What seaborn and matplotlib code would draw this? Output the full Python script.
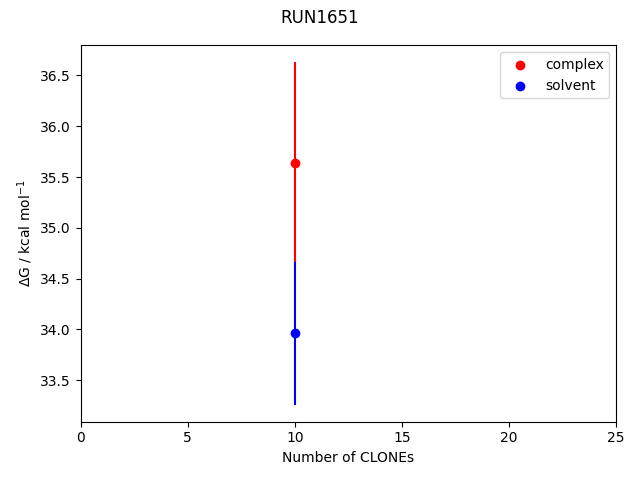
import numpy as np
import pandas as pd
import matplotlib
matplotlib.use("Agg")
import matplotlib.pyplot as plt
import seaborn as sns

# values
phases = ["complex", "solvent"]
colors = ["red", "blue"]
n_clones = [10, 10]
delta_g = [35.64, 33.96]
delta_g_err = [0.99, 0.70]

fig, ax = plt.subplots(figsize=(6.4, 4.8), dpi=100)

for phase, c, x, y, e in zip(phases, colors, n_clones, delta_g, delta_g_err):
    ax.errorbar(x, y, yerr=e, fmt="none", ecolor=c)
    sns.scatterplot(x=[x], y=[y], color=c, label=phase, ax=ax,
                    s=36, edgecolor=c, linewidth=1.0)

ax.set_xlim(0, 25)
ax.set_xlabel("Number of CLONEs")
ax.set_ylabel(r"$\Delta$G / kcal mol$^{-1}$")
ax.legend(loc="upper right")
fig.suptitle("RUN1651", y=0.982)
fig.tight_layout()
fig.subplots_adjust(top=0.906)
fig.savefig("out.png", dpi=100)
